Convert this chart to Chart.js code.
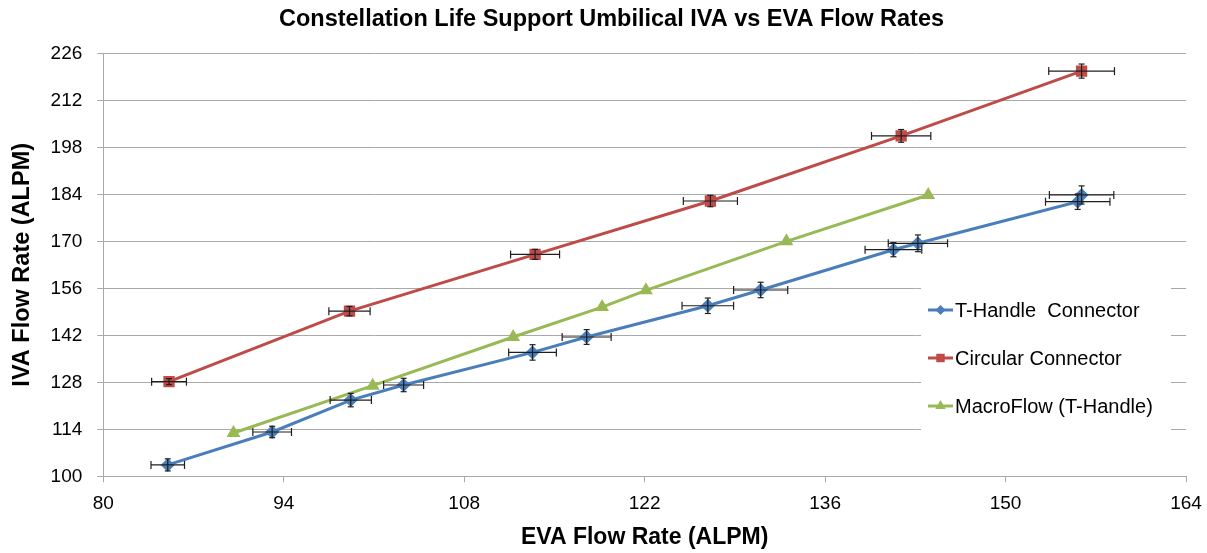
<!DOCTYPE html>
<html>
<head>
<meta charset="utf-8">
<script src="https://cdn.jsdelivr.net/npm/chart.js@4/dist/chart.umd.min.js"></script>
<style>
html,body{margin:0;padding:0;background:#fff;}
#wrap{width:1207px;height:553px;position:relative;}
</style>
</head>
<body>
<div id="wrap"><canvas id="c" width="1207" height="553"></canvas></div>
<script>
// ---- data ----
const chartTitle = 'Constellation Life Support Umbilical IVA vs EVA Flow Rates';
const xAxisTitle = 'EVA Flow Rate (ALPM)';
const yAxisTitle = 'IVA Flow Rate (ALPM)';
const seriesNames = ['T-Handle  Connector', 'Circular Connector', 'MacroFlow (T-Handle)'];

const tHandleEVA  = [85.0, 93.1, 99.2, 103.3, 113.3, 117.5, 126.9, 131.0, 141.3, 143.2, 155.6, 155.9];
const tHandleIVA  = [103.4, 113.2, 122.7, 127.2, 136.9, 141.5, 150.8, 155.5, 167.5, 169.4, 181.8, 183.8];
const tHandleErrX = [1.3, 1.5, 1.6, 1.55, 1.85, 1.9, 2.0, 2.1, 2.2, 2.3, 2.5, 2.5];
const tHandleErrY = [1.8, 1.7, 2.0, 2.0, 2.3, 2.2, 2.3, 2.3, 2.1, 2.5, 2.3, 2.7];

const circularEVA  = [85.1, 99.1, 113.5, 127.1, 141.9, 155.9];
const circularIVA  = [128.2, 149.2, 166.1, 182.0, 201.4, 220.7];
const circularErrX = [1.35, 1.6, 1.9, 2.1, 2.3, 2.55];
const circularErrY = [0.9, 1.4, 1.5, 1.7, 1.9, 2.1];

const macroEVA = [90.1, 100.9, 111.8, 118.7, 122.1, 133.0, 144.0];
const macroIVA = [112.9, 127.0, 141.5, 150.4, 155.4, 170.0, 183.8];

const xTickMin = 80, xTickMax = 164, xTickStep = 14;
const yTickMin = 100, yTickMax = 226, yTickStep = 14;

// ---- styling ----
const FONT = '"Liberation Sans", Arial, sans-serif';
const colors = ['#4a7ebb', '#be4b48', '#98b954'];
const styles = ['rectRot', 'rect', 'triangle'];
const radii = [7, 8, 8];
const gridColor = '#a9a9a9';

function pts(xs, ys) { return xs.map((x, i) => ({x: x, y: ys[i]})); }

const datasets = [
  {label: seriesNames[0], data: pts(tHandleEVA, tHandleIVA), errX: tHandleErrX, errY: tHandleErrY},
  {label: seriesNames[1], data: pts(circularEVA, circularIVA), errX: circularErrX, errY: circularErrY},
  {label: seriesNames[2], data: pts(macroEVA, macroIVA)}
].map((d, i) => Object.assign(d, {
  showLine: true,
  borderColor: colors[i],
  backgroundColor: colors[i],
  pointBackgroundColor: colors[i],
  pointBorderColor: colors[i],
  pointBorderWidth: 0,
  pointStyle: styles[i],
  pointRadius: radii[i],
  pointHoverRadius: radii[i],
  borderWidth: 3,
  tension: 0
}));

function drawMarker(ctx, style, x, y, r, color) {
  ctx.save();
  ctx.fillStyle = color;
  ctx.beginPath();
  if (style === 'rectRot') {
    ctx.moveTo(x - r, y); ctx.lineTo(x, y - r); ctx.lineTo(x + r, y); ctx.lineTo(x, y + r);
  } else if (style === 'rect') {
    const s = r * Math.SQRT1_2;
    ctx.rect(x - s, y - s, 2 * s, 2 * s);
  } else {
    ctx.moveTo(x, y - r); ctx.lineTo(x + r * 0.866, y + r * 0.5); ctx.lineTo(x - r * 0.866, y + r * 0.5);
  }
  ctx.closePath();
  ctx.fill();
  ctx.restore();
}

const legendPlugin = {
  id: 'boxLegend',
  afterDatasetsDraw(chart) {
    const ctx = chart.ctx;
    ctx.save();
    ctx.fillStyle = '#ffffff';
    ctx.fillRect(921, 266, 250, 182);
    ctx.font = '20px ' + FONT;
    ctx.textBaseline = 'middle';
    ctx.textAlign = 'left';
    seriesNames.forEach((name, i) => {
      const y = 310 + 48 * i;
      ctx.strokeStyle = colors[i];
      ctx.lineWidth = 3;
      ctx.beginPath(); ctx.moveTo(928, y); ctx.lineTo(953, y); ctx.stroke();
      drawMarker(ctx, styles[i], 940.5, y, radii[i] - 2, colors[i]);
      ctx.fillStyle = '#000';
      ctx.fillText(name, 955, y + 1);
    });
    ctx.restore();
  }
};

const errorBarPlugin = {
  id: 'errorBars',
  afterDatasetsDraw(chart) {
    const ctx = chart.ctx, xs = chart.scales.x, ys = chart.scales.y;
    ctx.save();
    ctx.strokeStyle = '#1e1e1e';
    ctx.lineWidth = 1.2;
    const seg = (a, b, c, d) => { ctx.beginPath(); ctx.moveTo(a, b); ctx.lineTo(c, d); ctx.stroke(); };
    chart.data.datasets.forEach(ds => {
      if (!ds.errX) return;
      ds.data.forEach((p, i) => {
        const px = xs.getPixelForValue(p.x), py = ys.getPixelForValue(p.y);
        const x0 = xs.getPixelForValue(p.x - ds.errX[i]), x1 = xs.getPixelForValue(p.x + ds.errX[i]);
        const y0 = ys.getPixelForValue(p.y - ds.errY[i]), y1 = ys.getPixelForValue(p.y + ds.errY[i]);
        seg(x0, py, x1, py); seg(x0, py - 4, x0, py + 4); seg(x1, py - 4, x1, py + 4);
        seg(px, y0, px, y1); seg(px - 3, y0, px + 3, y0); seg(px - 3, y1, px + 3, y1);
      });
    });
    ctx.restore();
  }
};

new Chart(document.getElementById('c'), {
  type: 'scatter',
  data: {datasets: datasets},
  plugins: [legendPlugin, errorBarPlugin],
  options: {
    responsive: false,
    animation: false,
    devicePixelRatio: 1,
    layout: {padding: {left: 37, right: 21, top: 0, bottom: 0}},
    plugins: {
      legend: {display: false},
      tooltip: {enabled: false},
      title: {
        display: true,
        text: chartTitle,
        color: '#000',
        font: {family: FONT, size: 23.5, weight: 'bold'},
        padding: {top: 5, bottom: 20.1}
      }
    },
    scales: {
      x: {
        type: 'linear',
        min: xTickMin, max: xTickMax,
        ticks: {stepSize: xTickStep, color: '#000', font: {family: FONT, size: 19}, padding: 10},
        grid: {drawOnChartArea: false, drawTicks: true, tickLength: 6, color: gridColor},
        border: {display: true, color: gridColor, width: 1},
        title: {display: true, text: xAxisTitle, color: '#000', font: {family: FONT, size: 23, weight: 'bold'}, padding: {top: 0, bottom: 2}},
        afterFit(scale) { scale.height = 76.7; scale.paddingRight = 0; scale.paddingLeft = 0; }
      },
      y: {
        type: 'linear',
        min: yTickMin, max: yTickMax,
        ticks: {stepSize: yTickStep, color: '#000', font: {family: FONT, size: 19}, padding: 15},
        grid: {drawOnChartArea: true, drawTicks: true, tickLength: 6, color: gridColor},
        border: {display: true, color: gridColor, width: 1},
        title: {display: true, text: yAxisTitle, color: '#000', font: {family: FONT, size: 23.5, weight: 'bold'}, padding: {top: -28.8, bottom: 0}},
        afterFit(scale) { scale.width = 66.3; }
      }
    }
  }
});
</script>
</body>
</html>
